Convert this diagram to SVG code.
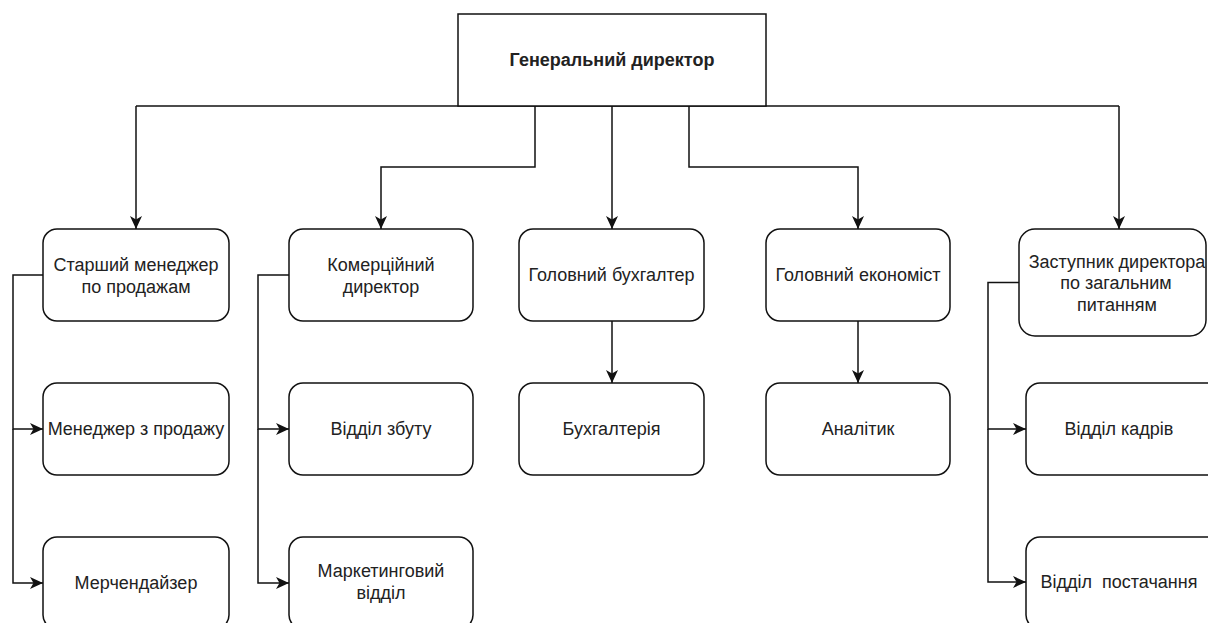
<svg xmlns="http://www.w3.org/2000/svg" width="1208" height="623" viewBox="0 0 1208 623">
<style>
.box{fill:#fff;stroke:#111;stroke-width:1.5}
.t{font-family:"Liberation Sans",Arial,sans-serif;font-size:18px;fill:#222;text-anchor:middle}
.b{font-weight:bold}
.e{fill:none;stroke:#111;stroke-width:1.5}
.ea{fill:none;stroke:#111;stroke-width:1.5;marker-end:url(#arr)}
</style>
<defs>
<marker id="arr" markerUnits="userSpaceOnUse" markerWidth="13" markerHeight="13" viewBox="0 0 13 13" refX="13" refY="6.5" orient="auto">
<path d="M0,0.5 L13,6.5 L0,12.5 L3.5,6.5 Z" fill="#111"/>
</marker>
</defs>
<rect width="1208" height="623" fill="#fff"/>
<g id="connectors">
<path class="e" d="M136,106 H1119"/>
<path class="ea" d="M136,106 V229"/>
<path class="ea" d="M535,106 V167 H381 V229"/>
<path class="ea" d="M612,106 V229"/>
<path class="ea" d="M689,106 V167 H858 V229"/>
<path class="ea" d="M1119,106 V229"/>
<path class="ea" d="M43,275 H13 V429 H43"/>
<path class="ea" d="M13,429 V583 H43"/>
<path class="ea" d="M289,275 H258 V429 H289"/>
<path class="ea" d="M258,429 V583 H289"/>
<path class="ea" d="M612,321 V383"/>
<path class="ea" d="M858,321 V383"/>
<path class="ea" d="M1019,282.5 H988 V429 H1026"/>
<path class="ea" d="M988,429 V582 H1026"/>
</g>
<g id="gen-director">
<rect class="box" x="458" y="14" width="308" height="92"/>
<text class="t b" x="612" y="66">Генеральний директор</text>
</g>
<g id="senior-manager">
<rect class="box" x="43" y="229" width="186" height="92" rx="14"/>
<text class="t" x="136" y="271">Старший менеджер</text>
<text class="t" x="136" y="292.5">по продажам</text>
</g>
<g id="sales-manager">
<rect class="box" x="43" y="383" width="186" height="92" rx="14"/>
<text class="t" x="136" y="435">Менеджер з продажу</text>
</g>
<g id="merchandiser">
<rect class="box" x="43" y="537" width="186" height="92" rx="14"/>
<text class="t" x="136" y="589">Мерчендайзер</text>
</g>
<g id="commercial-director">
<rect class="box" x="289" y="229" width="184" height="92" rx="14"/>
<text class="t" x="381" y="271">Комерційний</text>
<text class="t" x="381" y="292.5">директор</text>
</g>
<g id="sales-dept">
<rect class="box" x="289" y="383" width="184" height="92" rx="14"/>
<text class="t" x="381" y="435">Відділ збуту</text>
</g>
<g id="marketing-dept">
<rect class="box" x="289" y="537" width="184" height="92" rx="14"/>
<text class="t" x="381" y="577">Маркетинговий</text>
<text class="t" x="381" y="599">відділ</text>
</g>
<g id="chief-accountant">
<rect class="box" x="519" y="229" width="185" height="92" rx="14"/>
<text class="t" x="611.5" y="281">Головний бухгалтер</text>
</g>
<g id="accounting">
<rect class="box" x="519" y="383" width="185" height="92" rx="14"/>
<text class="t" x="611.5" y="435">Бухгалтерія</text>
</g>
<g id="chief-economist">
<rect class="box" x="766" y="229" width="184" height="92" rx="14"/>
<text class="t" x="858" y="281">Головний економіст</text>
</g>
<g id="analyst">
<rect class="box" x="766" y="383" width="184" height="92" rx="14"/>
<text class="t" x="858" y="435">Аналітик</text>
</g>
<g id="deputy-director">
<rect class="box" x="1019" y="229" width="187" height="107" rx="16"/>
<text class="t" x="1117" y="267.5">Заступник директора</text>
<text class="t" x="1116" y="289">по загальним</text>
<text class="t" x="1117" y="310.5">питанням</text>
</g>
<g id="hr-dept">
<rect class="box" x="1026" y="383" width="200" height="92" rx="14"/>
<text class="t" x="1119" y="435">Відділ кадрів</text>
</g>
<g id="supply-dept">
<rect class="box" x="1026" y="537" width="200" height="92" rx="14"/>
<text class="t" x="1119" y="588" xml:space="preserve">Відділ  постачання</text>
</g>
</svg>
